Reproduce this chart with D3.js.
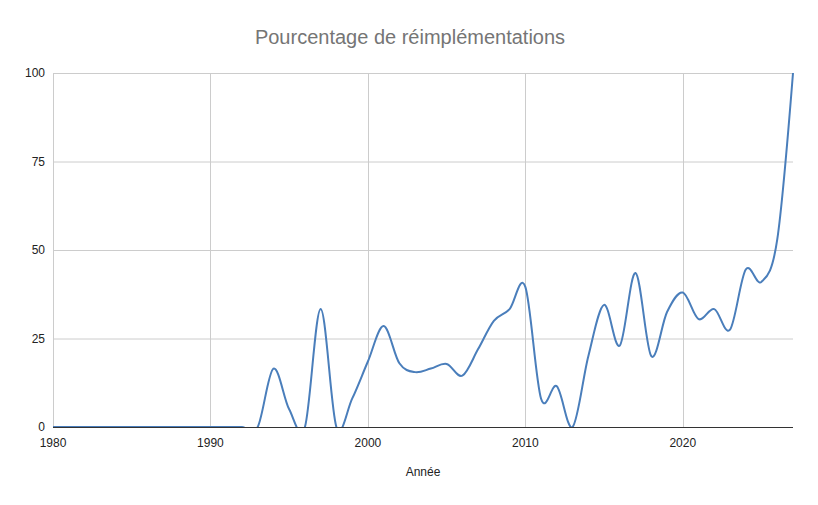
<!DOCTYPE html>
<html>
<head>
<meta charset="utf-8">
<script src="https://cdn.jsdelivr.net/npm/d3@7"></script>
<style>
  body { margin: 0; background: #fff; }
  text { font-family: Arial, "Liberation Sans", sans-serif; }
</style>
</head>
<body>
<div id="chart"></div>
<script>
// Pourcentage de réimplémentations par année

const years = [
  1980, 1981, 1982, 1983, 1984, 1985, 1986, 1987, 1988, 1989,
  1990, 1991, 1992, 1993, 1994, 1995, 1996, 1997, 1998, 1999,
  2000, 2001, 2002, 2003, 2004, 2005, 2006, 2007, 2008, 2009,
  2010, 2011, 2012, 2013, 2014, 2015, 2016, 2017, 2018, 2019,
  2020, 2021, 2022, 2023, 2024, 2025, 2026, 2027
];
const percentages = [
  0, 0, 0, 0, 0, 0, 0, 0, 0, 0,
  0, 0, 0, 0, 16.5, 5, 0, 33.3, 0, 8,
  18.5, 28.5, 18, 15.5, 16.5, 17.8, 14.5, 22, 30, 33.3,
  39.6, 8, 11.5, 0, 20, 34.5, 23, 43.5, 20, 32.5,
  38, 30.5, 33.3, 27.5, 44.5, 41, 53, 100
];
const xTicks = [1980, 1990, 2000, 2010, 2020];
const yTicks = [0, 25, 50, 75, 100];

const totalWidth = 818, totalHeight = 505;
const margin = {top: 73, right: 25, bottom: 78, left: 53};
const width = totalWidth - margin.left - margin.right;
const height = totalHeight - margin.top - margin.bottom;

const data = years.map((y, i) => ({year: y, value: percentages[i]}));

const root = d3.select("#chart")
    .append("svg")
    .attr("width", totalWidth)
    .attr("height", totalHeight);

const svg = root.append("g")
    .attr("transform", `translate(${margin.left},${margin.top})`);

const x = d3.scaleLinear()
    .domain([1980, 2027])
    .range([0, width]);

const y = d3.scaleLinear()
    .domain([0, 100])
    .range([height, 0]);

// grid
svg.append("g")
    .selectAll("line")
    .data(yTicks.filter(d => d !== 0))
    .enter().append("line")
    .attr("x1", 0)
    .attr("x2", width)
    .attr("y1", d => y(d) + 0.5)
    .attr("y2", d => y(d) + 0.5)
    .attr("stroke", "#cccccc");

svg.append("g")
    .selectAll("line")
    .data(xTicks)
    .enter().append("line")
    .attr("x1", d => Math.round(x(d)) + 0.5)
    .attr("x2", d => Math.round(x(d)) + 0.5)
    .attr("y1", 0)
    .attr("y2", height)
    .attr("stroke", "#cccccc");

// baseline
svg.append("line")
    .attr("x1", 0)
    .attr("x2", width)
    .attr("y1", height + 0.5)
    .attr("y2", height + 0.5)
    .attr("stroke", "#333333");

// y labels
svg.append("g")
    .selectAll("text")
    .data(yTicks)
    .enter().append("text")
    .attr("x", -8)
    .attr("y", d => y(d) + 4)
    .attr("text-anchor", "end")
    .style("font-size", "12px")
    .style("fill", "#222")
    .text(d => d);

// x labels
svg.append("g")
    .selectAll("text")
    .data(xTicks)
    .enter().append("text")
    .attr("x", d => x(d))
    .attr("y", height + 20)
    .attr("text-anchor", "middle")
    .style("font-size", "12px")
    .style("fill", "#222")
    .text(d => d);

// clip
root.append("defs").append("clipPath")
    .attr("id", "plot-clip")
    .append("rect")
    .attr("x", 0)
    .attr("y", -1)
    .attr("width", width + 1)
    .attr("height", height + 1);

const line = d3.line()
    .x(d => x(d.year))
    .y(d => y(d.value))
    .curve(d3.curveCatmullRom.alpha(0));

svg.append("path")
    .datum(data)
    .attr("clip-path", "url(#plot-clip)")
    .attr("fill", "none")
    .attr("stroke", "#4a7ebb")
    .attr("stroke-width", 2)
    .attr("d", line);

// titles
root.append("text")
    .attr("x", 410)
    .attr("y", 44)
    .attr("text-anchor", "middle")
    .style("font-size", "20px")
    .style("fill", "#757575")
    .text("Pourcentage de réimplémentations");

root.append("text")
    .attr("x", margin.left + width / 2)
    .attr("y", 476)
    .attr("text-anchor", "middle")
    .style("font-size", "12px")
    .style("fill", "#222")
    .text("Année");
</script>
</body>
</html>
